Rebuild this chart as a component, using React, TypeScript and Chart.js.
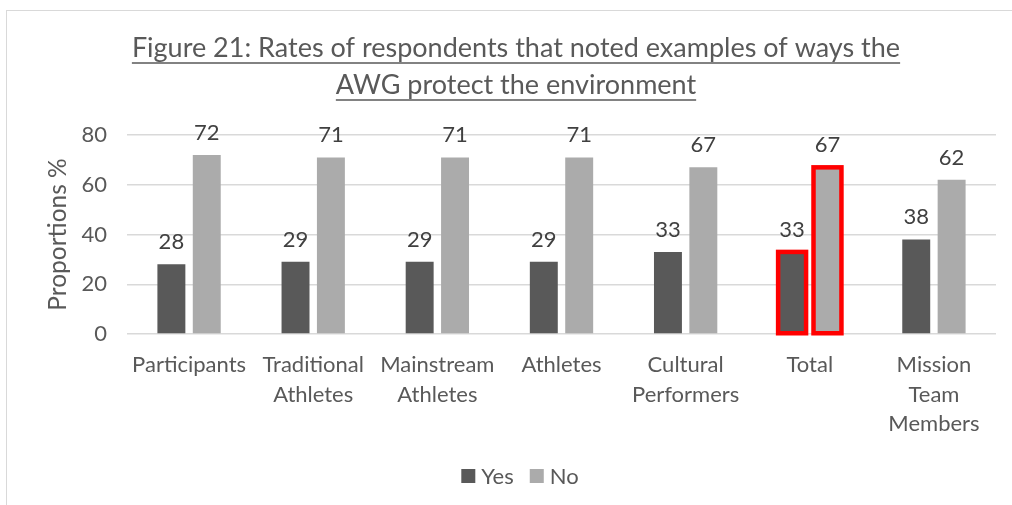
import React, { useEffect, useRef } from "react";
import { Chart, registerables } from "chart.js";

Chart.register(...registerables);

// ---------- data ----------
const categories: string[][] = [
  ["Participants"],
  ["Traditional", "Athletes"],
  ["Mainstream", "Athletes"],
  ["Athletes"],
  ["Cultural", "Performers"],
  ["Total"],
  ["Mission", "Team", "Members"],
];
const seriesNames = ["Yes", "No"];
const yesValues = [28, 29, 29, 29, 33, 33, 38];
const noValues = [72, 71, 71, 71, 67, 67, 62];
const yTicks = [0, 20, 40, 60, 80];
const highlighted = [false, false, false, false, false, true, false];
const titleLines = [
  "Figure 21: Rates of respondents that noted examples of ways the",
  "AWG protect the environment",
];
const yAxisTitle = "Proportions %";

// ---------- styles ----------
const FONT = "Lato, 'Open Sans', sans-serif";
const TEXT = "#595959";
const LABEL = "#404040";
const YES_COLOR = "#595959";
const NO_COLOR = "#ababab";
const GRID = "#d9d9d9";

const decorPlugin = {
  id: "decor",
  afterDraw(chart: any) {
    const ctx = chart.ctx as CanvasRenderingContext2D;
    const area = chart.chartArea;
    ctx.save();
    // title
    ctx.fillStyle = TEXT;
    ctx.strokeStyle = TEXT;
    ctx.font = `27px ${FONT}`;
    ctx.textAlign = "center";
    ctx.textBaseline = "alphabetic";
    const cx = 516;
    const baselines = [57, 94];
    titleLines.forEach((line, i) => {
      const w = ctx.measureText(line).width;
      ctx.fillText(line, cx, baselines[i]);
      ctx.lineWidth = 1.5;
      ctx.beginPath();
      ctx.moveTo(cx - w / 2, baselines[i] + 6);
      ctx.lineTo(cx + w / 2, baselines[i] + 6);
      ctx.stroke();
    });
    // y axis title
    ctx.save();
    ctx.translate(58, (area.top + area.bottom) / 2);
    ctx.rotate(-Math.PI / 2);
    ctx.font = `24.5px ${FONT}`;
    ctx.textBaseline = "middle";
    ctx.textAlign = "center";
    ctx.fillText(yAxisTitle, 0, 0);
    ctx.restore();
    // legend
    ctx.font = `22px ${FONT}`;
    const box = 14;
    const gapBoxText = 6;
    const gapItems = 16;
    const widths = seriesNames.map((n) => ctx.measureText(n).width);
    const total =
      widths.reduce((a, b) => a + b, 0) +
      seriesNames.length * (box + gapBoxText) +
      gapItems * (seriesNames.length - 1);
    let x = 520 - total / 2;
    const ly = 476;
    const colors = [YES_COLOR, NO_COLOR];
    ctx.textAlign = "left";
    ctx.textBaseline = "middle";
    seriesNames.forEach((n, i) => {
      ctx.fillStyle = colors[i];
      ctx.fillRect(x, ly - box / 2, box, box);
      x += box + gapBoxText;
      ctx.fillStyle = TEXT;
      ctx.fillText(n, x, ly + 1);
      x += widths[i] + gapItems;
    });
    ctx.restore();
  },
  afterDatasetsDraw(chart: any) {
    const ctx = chart.ctx as CanvasRenderingContext2D;
    ctx.save();
    // highlight borders
    chart.data.datasets.forEach((ds: any, di: number) => {
      const meta = chart.getDatasetMeta(di);
      meta.data.forEach((el: any, i: number) => {
        if (!highlighted[i]) return;
        const { x, y, base, width } = el.getProps(["x", "y", "base", "width"], true);
        ctx.strokeStyle = "#ff0000";
        ctx.lineWidth = 4.5;
        ctx.strokeRect(x - width / 2, y, width, base - y);
      });
    });
    // value labels
    ctx.fillStyle = LABEL;
    ctx.font = `22px ${FONT}`;
    ctx.textAlign = "center";
    ctx.textBaseline = "alphabetic";
    chart.data.datasets.forEach((ds: any, di: number) => {
      const meta = chart.getDatasetMeta(di);
      meta.data.forEach((el: any, i: number) => {
        const { x, y } = el.getProps(["x", "y"], true);
        ctx.fillText(String(ds.data[i]), x, y - 15);
      });
    });
    ctx.restore();
  },
};

export default function App() {
  const ref = useRef<HTMLCanvasElement | null>(null);
  useEffect(() => {
    if (!ref.current) return;
    const chart = new Chart(ref.current, {
      type: "bar",
      data: {
        labels: categories,
        datasets: [
          {
            label: seriesNames[0],
            data: yesValues,
            backgroundColor: YES_COLOR,
            categoryPercentage: 0.57,
            barPercentage: 0.79,
          },
          {
            label: seriesNames[1],
            data: noValues,
            backgroundColor: NO_COLOR,
            categoryPercentage: 0.57,
            barPercentage: 0.79,
          },
        ],
      },
      options: {
        animation: false,
        responsive: false,
        devicePixelRatio: 1,
        layout: { padding: { left: 0, right: 16, top: 135, bottom: 0 } },
        plugins: {
          legend: { display: false },
          title: { display: false },
          tooltip: { enabled: false },
        },
        scales: {
          y: {
            min: yTicks[0],
            max: yTicks[yTicks.length - 1],
            afterBuildTicks: (s: any) => {
              s.ticks = yTicks.map((v) => ({ value: v }));
            },
            afterFit: (s: any) => {
              s.width = 127;
            },
            ticks: {
              color: TEXT,
              font: { family: FONT, size: 22 },
              padding: 20,
            },
            grid: { color: GRID, lineWidth: 1.5, drawTicks: false },
            border: { display: false },
          },
          x: {
            afterFit: (s: any) => {
              s.height = 171;
            },
            ticks: {
              color: TEXT,
              font: { family: FONT, size: 22, lineHeight: 1.35 },
              padding: 16,
              maxRotation: 0,
              autoSkip: false,
            },
            grid: { display: false, drawTicks: false },
            border: { display: false },
          },
        },
      },
      plugins: [decorPlugin],
    });
    return () => chart.destroy();
  }, []);
  return (
    <div
      style={{
        position: "fixed",
        left: 0,
        top: 0,
        width: 1012,
        height: 505,
        overflow: "hidden",
        background: "#fff",
      }}
    >
      <div
        style={{
          position: "absolute",
          left: 6,
          top: 10,
          width: 1100,
          height: 600,
          border: "1.5px solid #d9d9d9",
        }}
      />
      <canvas
        ref={ref}
        width={1012}
        height={505}
        style={{ position: "absolute", left: 0, top: 0, width: 1012, height: 505 }}
      />
    </div>
  );
}
